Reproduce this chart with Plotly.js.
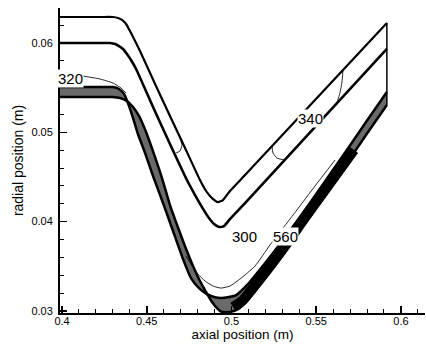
<!DOCTYPE html>
<html>
<head>
<meta charset="utf-8">
<script src="https://cdn.plot.ly/plotly-3.0.1.min.js"></script>
<style>html,body{margin:0;padding:0;background:#fff;}#chart{width:426px;height:352px;}</style>
</head>
<body>
<div id="chart"></div>
<script>
// Outer contour (top line)
const topX = [0.3988, 0.4224, 0.4301, 0.4330, 0.4354, 0.4378, 0.4401, 0.4431, 0.4460, 0.4549, 0.4637, 0.4726, 0.4814, 0.4850, 0.4885, 0.4920, 0.4950, 0.4991, 0.5080, 0.5917];
const topY = [0.06291, 0.06291, 0.06291, 0.06280, 0.06258, 0.06213, 0.06134, 0.06022, 0.05910, 0.05541, 0.05183, 0.04824, 0.04466, 0.04343, 0.04264, 0.04219, 0.04242, 0.04343, 0.04522, 0.06224];
// Second contour
const midX = [0.3988, 0.4224, 0.4283, 0.4313, 0.4336, 0.4360, 0.4383, 0.4407, 0.4437, 0.4537, 0.4637, 0.4737, 0.4785, 0.4826, 0.4867, 0.4897, 0.4926, 0.4956, 0.4991, 0.5080, 0.5917];
const midY = [0.06000, 0.06000, 0.06000, 0.05989, 0.05966, 0.05933, 0.05877, 0.05810, 0.05709, 0.05283, 0.04869, 0.04466, 0.04298, 0.04163, 0.04040, 0.03973, 0.03940, 0.03951, 0.04029, 0.04208, 0.05933];
// Dense band: upper edge
const bandUpX = [0.3988, 0.4224, 0.4301, 0.4336, 0.4366, 0.4389, 0.4419, 0.4448, 0.4490, 0.4537, 0.4596, 0.4655, 0.4714, 0.4761, 0.4808, 0.4855, 0.4897, 0.4938, 0.4985, 0.5027, 0.5097, 0.5180, 0.5304, 0.5463, 0.5640, 0.5794, 0.5917];
const bandUpY = [0.05507, 0.05507, 0.05507, 0.05485, 0.05429, 0.05328, 0.05160, 0.04981, 0.04768, 0.04511, 0.04208, 0.03895, 0.03581, 0.03368, 0.03256, 0.03189, 0.03156, 0.03144, 0.03156, 0.03178, 0.03301, 0.03492, 0.03794, 0.04208, 0.04690, 0.05115, 0.05451];
// Dense band: lower edge
const bandLowX = [0.3988, 0.4224, 0.4295, 0.4342, 0.4383, 0.4419, 0.4454, 0.4484, 0.4507, 0.4549, 0.4590, 0.4637, 0.4690, 0.4732, 0.4773, 0.4814, 0.4850, 0.4885, 0.4920, 0.4944, 0.4991, 0.5038, 0.5086, 0.5145, 0.5239, 0.5357, 0.5487, 0.5646, 0.5794, 0.5917];
const bandLowY = [0.05395, 0.05395, 0.05395, 0.05384, 0.05350, 0.05283, 0.05183, 0.05059, 0.04947, 0.04723, 0.04488, 0.04186, 0.03906, 0.03693, 0.03503, 0.03335, 0.03212, 0.03100, 0.03021, 0.02988, 0.02988, 0.03021, 0.03100, 0.03234, 0.03458, 0.03760, 0.04119, 0.04555, 0.04970, 0.05306];
// Dense core on the right arm
const coreX = [0.5009, 0.5068, 0.5723];
const coreY = [0.03044, 0.03122, 0.04802];
// Thin contours
const c320X = [0.4124, 0.4224, 0.4301, 0.4348, 0.4378];
const c320Y = [0.05630, 0.05597, 0.05552, 0.05496, 0.05440];
const c300X = [0.4732, 0.4767, 0.4802, 0.4844, 0.4891, 0.4938, 0.4991, 0.5050, 0.5139, 0.5227, 0.5304, 0.5386, 0.5493, 0.5611];
const c300Y = [0.03615, 0.03503, 0.03413, 0.03335, 0.03279, 0.03256, 0.03279, 0.03357, 0.03503, 0.03738, 0.03928, 0.04130, 0.04399, 0.04690];
const arc1X = [0.4696, 0.4708, 0.4696, 0.4673];
const arc1Y = [0.04936, 0.04858, 0.04791, 0.04768];
const arc2X = [0.5239, 0.5245, 0.5268, 0.5310];
const arc2Y = [0.04847, 0.04768, 0.04712, 0.04690];
const arc3X = [0.5658, 0.5652, 0.5640, 0.5622];
const arc3Y = [0.05698, 0.05563, 0.05440, 0.05328];
// Right boundary
const wallX = [0.5917, 0.5917];
const wallY = [0.06224, 0.05306];
// Contour labels
const labelText = ['320', '340', '300', '560'];
const labelX = [0.4050, 0.5466, 0.5077, 0.5316];
const labelY = [0.05608, 0.05160, 0.03839, 0.03833];
// Ticks
const xTickVals = [0.4, 0.45, 0.5, 0.55, 0.6];
const xTickText = ['0.4', '0.45', '0.5', '0.55', '0.6'];
const yTickVals = [0.03, 0.04, 0.05, 0.06];
const yTickText = ['0.03', '0.04', '0.05', '0.06'];

function line(x, y, width, color, extra) {
  return Object.assign({x: x, y: y, type: 'scatter', mode: 'lines', hoverinfo: 'skip',
    line: {width: width, color: color, shape: 'spline', smoothing: 0.5}}, extra || {});
}
const traces = [
  line(bandUpX, bandUpY, 2.5, '#000'),
  line(bandLowX, bandLowY, 2.5, '#000', {fill: 'tonexty', fillcolor: '#6a6a6a'}),
  {x: coreX, y: coreY, type: 'scatter', mode: 'lines', hoverinfo: 'skip', line: {width: 10, color: '#000', shape: 'spline', smoothing: 0.5}},
  line(c320X, c320Y, 0.9, '#111'),
  line(c300X, c300Y, 0.9, '#111'),
  line(arc1X, arc1Y, 0.9, '#111'),
  line(arc2X, arc2Y, 0.9, '#111'),
  line(arc3X, arc3Y, 0.9, '#111'),
  line(topX, topY, 2.2, '#000'),
  line(midX, midY, 2.6, '#000'),
  {x: wallX, y: wallY, type: 'scatter', mode: 'lines', hoverinfo: 'skip', line: {width: 1.5, color: '#000'}}
];

const annotations = labelText.map((t, i) => ({
  x: labelX[i], y: labelY[i], xref: 'x', yref: 'y', text: t, showarrow: false,
  font: {size: 15, color: '#000', family: 'Liberation Sans, Arial, sans-serif'},
  bgcolor: '#fff', borderpad: 0
}));

const layout = {
  width: 426, height: 352,
  margin: {l: 60, r: 1, t: 8, b: 39},
  paper_bgcolor: '#fff', plot_bgcolor: '#fff',
  showlegend: false,
  font: {family: 'Liberation Sans, Arial, sans-serif', color: '#000'},
  xaxis: {
    range: [0.3988, 0.6142],
    tickvals: xTickVals, ticktext: xTickText,
    ticks: 'inside', ticklen: 7, tickwidth: 1.5, tickcolor: '#000',
    showline: true, linecolor: '#000', linewidth: 2, mirror: false,
    showgrid: false, zeroline: false,
    tickfont: {size: 11, color: '#000'},
    ticklabelstandoff: -3,
    minor: {tick0: 0.4, dtick: 0.01, ticks: 'inside', ticklen: 4, tickwidth: 1, tickcolor: '#000', showgrid: false},
    title: {text: 'axial position (m)', font: {size: 13.5, color: '#000'}, standoff: 1}
  },
  yaxis: {
    range: [0.02977, 0.06392],
    tickvals: yTickVals, ticktext: yTickText,
    ticks: 'inside', ticklen: 7, tickwidth: 1.5, tickcolor: '#000',
    showline: true, linecolor: '#000', linewidth: 2, mirror: false,
    showgrid: false, zeroline: false,
    tickfont: {size: 11, color: '#000'},
    ticklabelstandoff: 3,
    minor: {tick0: 0.03, dtick: 0.002, ticks: 'inside', ticklen: 4, tickwidth: 1, tickcolor: '#000', showgrid: false},
    title: {text: 'radial position (m)', font: {size: 14, color: '#000'}, standoff: 4}
  },
  annotations: annotations
};

Plotly.newPlot('chart', traces, layout, {displayModeBar: false, staticPlot: true});
</script>
</body>
</html>
